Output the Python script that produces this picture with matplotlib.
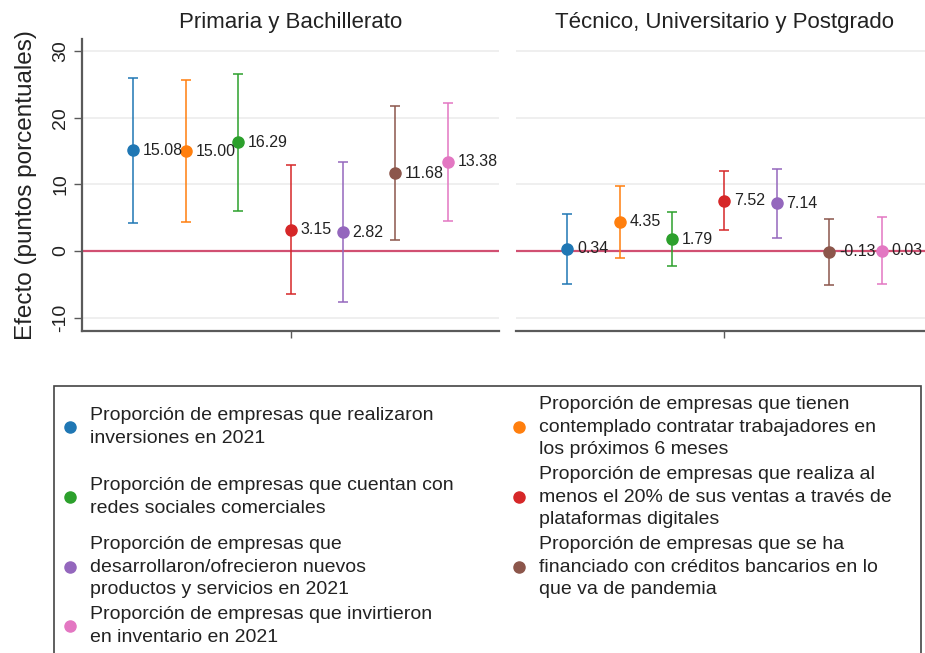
import numpy as np
import matplotlib
matplotlib.use("Agg")
import matplotlib.pyplot as plt
from matplotlib.lines import Line2D
from matplotlib.patches import Rectangle

plt.rcParams['font.family'] = ['Liberation Sans', 'DejaVu Sans']
plt.rcParams['axes.unicode_minus'] = False

# efectos estimados e intervalos de confianza por nivel educativo
paneles = ["Primaria y Bachillerato", "Técnico, Universitario y Postgrado"]

est_pb = [15.08, 15.00, 16.29, 3.15, 2.82, 11.68, 13.38]
lo_pb = [4.2, 4.4, 6.0, -6.5, -7.6, 1.6, 4.5]
hi_pb = [25.9, 25.7, 26.6, 12.9, 13.3, 21.8, 22.2]

est_tu = [0.34, 4.35, 1.79, 7.52, 7.14, -0.13, 0.03]
lo_tu = [-4.9, -1.0, -2.2, 3.1, 2.0, -5.05, -4.95]
hi_tu = [5.55, 9.8, 5.85, 11.95, 12.3, 4.75, 5.05]

variables = [
    "Proporción de empresas que realizaron\ninversiones en 2021",
    "Proporción de empresas que tienen\ncontemplado contratar trabajadores en\nlos próximos 6 meses",
    "Proporción de empresas que cuentan con\nredes sociales comerciales",
    "Proporción de empresas que realiza al\nmenos el 20% de sus ventas a través de\nplataformas digitales",
    "Proporción de empresas que\ndesarrollaron/ofrecieron nuevos\nproductos y servicios en 2021",
    "Proporción de empresas que se ha\nfinanciado con créditos bancarios en lo\nque va de pandemia",
    "Proporción de empresas que invirtieron\nen inventario en 2021",
]
colores = ["#1f77b4", "#ff7f0e", "#2ca02c", "#d62728", "#9467bd", "#8c564b", "#e377c2"]

W, H = 925, 653
fig = plt.figure(figsize=(W / 100, H / 100), dpi=100)

def fx(px):
    return px / W

def fy(py):
    return 1 - py / H

ax1 = fig.add_axes([fx(82), fy(331), fx(417), 292 / H])
ax2 = fig.add_axes([fx(516), fy(331), fx(417), 292 / H])

spine_col = "#5a5a5a"
datos = [(est_pb, lo_pb, hi_pb), (est_tu, lo_tu, hi_tu)]
pos = np.arange(len(variables)) - (len(variables) - 1) / 2

for ax, titulo, (est, lo, hi) in zip([ax1, ax2], paneles, datos):
    ax.set_xlim(-3.98, 3.98)
    ax.set_ylim(-12, 31.8)
    for g in [-10, 10, 20, 30]:
        ax.axhline(g, color="#ebebeb", lw=1.1, zorder=0)
    ax.axhline(0, color="#cc3d63", lw=1.6, alpha=0.9, zorder=1)
    for i in range(len(variables)):
        ax.errorbar(pos[i], est[i], yerr=[[est[i] - lo[i]], [hi[i] - est[i]]],
                    fmt="o", color=colores[i], ms=8, elinewidth=1.1,
                    capsize=3.6, capthick=1.1, zorder=3)
        ax.annotate(f"{est[i]:.2f}", (pos[i], est[i]), xytext=(7, 0),
                    textcoords="offset points", va="center", ha="left",
                    fontsize=11.5, color="#222222", zorder=4)
    ax.set_title(titulo, fontsize=16, pad=8, color="#222222")
    for s in ["top", "right"]:
        ax.spines[s].set_visible(False)
    ax.spines["bottom"].set_color(spine_col)
    ax.spines["bottom"].set_linewidth(1.6)
    ax.set_xticks([0])
    ax.set_xticklabels([""])
    ax.tick_params(axis="x", length=5, width=1, color=spine_col)

ax1.spines["left"].set_color(spine_col)
ax1.spines["left"].set_linewidth(1.6)
ax1.set_yticks([-10, 0, 10, 20, 30])
ax1.tick_params(axis="y", length=6, width=1, color=spine_col, labelsize=14,
                pad=3, labelcolor="#222222")
for t in ax1.get_yticklabels():
    t.set_rotation(90)
    t.set_va("center")
ax1.set_ylabel("Efecto (puntos porcentuales)", fontsize=17.5, labelpad=11,
               color="#222222")

ax2.spines["left"].set_visible(False)
ax2.set_yticks([])

# recuadro de la leyenda
fig.add_artist(Rectangle((fx(54), fy(664)), fx(921 - 54), (664 - 386) / H,
                         transform=fig.transFigure, fill=False,
                         edgecolor="#444444", lw=1.2, clip_on=False))

# entradas de la leyenda en dos columnas con filas alineadas
col_x = [60.5, 509.5]
fila_y = [427, 497, 567, 626]
orden = [(0, 0), (1, 0), (0, 1), (1, 1), (0, 2), (1, 2), (0, 3)]
for i, (c, r) in enumerate(orden):
    h = Line2D([], [], marker="o", linestyle="none", color=colores[i], ms=8)
    leg = fig.legend(handles=[h], labels=[variables[i]], loc="center left",
                     bbox_to_anchor=(fx(col_x[c]), fy(fila_y[r])),
                     frameon=False, borderpad=0, borderaxespad=0,
                     handlelength=1.0, handletextpad=0.53, fontsize=14)
    for t in leg.get_texts():
        t.set_linespacing(1.45)
        t.set_color("#222222")

fig.savefig("out.png", dpi=100)
